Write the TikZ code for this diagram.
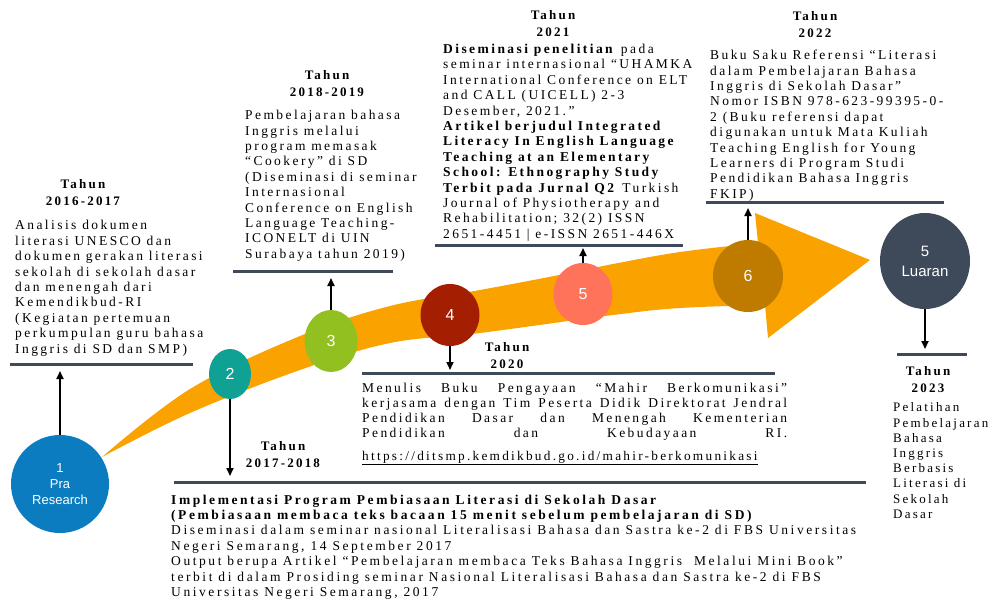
\documentclass[tikz,border=0pt]{standalone}
\usepackage{fontspec}
\setmainfont{Liberation Serif}
\newfontfamily\spaced{Liberation Serif}[LetterSpace=17]
\newfontfamily\spacedm{Liberation Serif}[LetterSpace=18]
\newfontfamily\spacedw{Liberation Serif}[LetterSpace=19]
\newfontfamily\arialf{Liberation Sans}
\usetikzlibrary{arrows.meta,shapes.geometric}
\definecolor{bandc}{RGB}{250,163,0}
\definecolor{rulec}{RGB}{62,74,89}
\definecolor{c1}{RGB}{12,124,192}
\definecolor{c2}{RGB}{15,162,148}
\definecolor{c3}{RGB}{146,192,32}
\definecolor{c4}{RGB}{164,30,2}
\definecolor{c5}{RGB}{255,115,90}
\definecolor{c6}{RGB}{190,123,0}
\definecolor{c7}{RGB}{62,74,89}
\begin{document}
\begin{tikzpicture}[x=1pt,y=-1pt,
  txt/.style={inner sep=0pt,anchor=base west,align=left,font=\spacedm\fontsize{13.5}{15.4}\selectfont},
  ttl/.style={inner sep=0pt,anchor=base,align=center,font=\spaced\bfseries\fontsize{13}{17}\selectfont},
  rulel/.style={draw=rulec,line width=3pt},
  conn/.style={draw=black,line width=1.8pt,-{Triangle[width=7pt,length=8pt]}},
  stage/.style={ellipse,inner sep=0pt,text=white,align=center,font=\arialf\fontsize{16}{20}\selectfont}]
\useasboundingbox (0,0) rectangle (998,603);
% orange band
\fill[bandc] plot[smooth,tension=0.6] coordinates {(102,457) (190,389) (300,336) (390,306) (480,290) (554,276) (613,264) (680,252) (758,243)}
  -- (755,213) -- (870,260) -- (768,338) -- (765,305)
  -- plot[smooth,tension=0.6] coordinates {(765,305) (680,308) (613,315) (480,333) (390,343) (300,370) (190,413) (102,457)} -- cycle;
% stage circles
\node[stage,fill=c1,minimum width=98pt,minimum height=98pt,font=\arialf\fontsize{13}{16}\selectfont] (s1) at (60,484) {1\\Pra\\Research};
\node[stage,fill=c2,minimum width=42pt,minimum height=50pt] (s2) at (230,374) {2};
\node[stage,fill=c3,minimum width=53pt,minimum height=62pt] (s3) at (331,341) {3};
\node[stage,fill=c4,minimum width=59pt,minimum height=62pt] (s4) at (450,315) {4};
\node[stage,fill=c5,minimum width=59pt,minimum height=62pt] (s5) at (583,294) {5};
\node[stage,fill=c6,minimum width=70pt,minimum height=72pt] (s6) at (748,276) {6};
\node[stage,fill=c7,minimum width=90pt,minimum height=96pt,font=\arialf\fontsize{15}{20}\selectfont] (s7) at (925,261) {5\\Luaran};
% rules
\draw[rulel] (10,364) -- (193,364);
\draw[rulel] (233,271) -- (393,271);
\draw[rulel] (435,245) -- (683,245);
\draw[rulel] (706,202) -- (944,202);
\draw[rulel] (362,373) -- (775,373);
\draw[rulel] (174,482) -- (866,482);
\draw[rulel] (897,354) -- (967,354);
% arrow ends
\coordinate (e1) at (60,371);
\coordinate (e2) at (230,476);
\coordinate (e3) at (331,278);
\coordinate (e4) at (450,370);
\coordinate (e5) at (583,248);
\coordinate (e6) at (748,208);
\coordinate (e7) at (925,349);
\draw[conn] (s1.north) -- (e1);
\draw[conn] (s2.south) -- (e2);
\draw[conn] (s3.north) -- (e3);
\draw[conn] (s4.south) -- (e4);
\draw[conn] (s5.north) -- (e5);
\draw[conn] (s6.north) -- (e6);
\draw[conn] (s7.south) -- (e7);
% titles (anchor = baseline of the last line)
\node[ttl] (t1) at (83,205) {Tahun\\2016-2017};
\node[ttl] (t2) at (327,96) {Tahun\\2018-2019};
\node[ttl] (t3) at (553,36.7) {Tahun\\2021};
\node[ttl] (t4) at (815,37.3) {Tahun\\2022};
\node[ttl] (t5) at (507,368.3) {Tahun\\2020};
\node[ttl] (t6) at (283,467.3) {Tahun\\2017-2018};
\node[ttl] (t7) at (928,392.3) {Tahun\\2023};
% texts (anchor = baseline of the last line)
\node[txt] (x1) at (15,353) {Analisis dokumen\\literasi UNESCO dan\\dokumen gerakan literasi\\sekolah di sekolah dasar\\dan menengah dari\\Kemendikbud-RI\\(Kegiatan pertemuan\\perkumpulan guru bahasa\\Inggris di SD dan SMP)};
\node[txt] (x2) at (245,258.3) {Pembelajaran bahasa\\Inggris melalui\\program memasak\\“Cookery” di SD\\(Diseminasi di seminar\\Internasional\\Conference on English\\Language Teaching-\\ICONELT di UIN\\Surabaya tahun 2019)};
\node[txt] (x3) at (443,238.3) {\textbf{Diseminasi penelitian} pada\\seminar internasional “UHAMKA\\International Conference on ELT\\and CALL (UICELL) 2-3\\Desember, 2021.”\\\textbf{Artikel berjudul Integrated}\\\textbf{Literacy In English Language}\\\textbf{Teaching at an Elementary}\\\textbf{School: Ethnography Study}\\\textbf{Terbit pada Jurnal Q2} Turkish\\Journal of Physiotherapy and\\Rehabilitation; 32(2) ISSN\\2651-4451 | e-ISSN 2651-446X};
\node[txt] (x4) at (710,198.3) {Buku Saku Referensi “Literasi\\dalam Pembelajaran Bahasa\\Inggris di Sekolah Dasar”\\Nomor ISBN 978-623-99395-0-\\2 (Buku referensi dapat\\digunakan untuk Mata Kuliah\\Teaching English for Young\\Learners di Program Studi\\Pendidikan Bahasa Inggris\\FKIP)};
\node[txt,font=\spacedm\fontsize{13.5}{15}\selectfont] (x5) at (362,460) {\makebox[425pt][s]{Menulis Buku Pengayaan “Mahir Berkomunikasi”}\\\makebox[425pt][s]{kerjasama dengan Tim Peserta Didik Direktorat Jendral}\\\makebox[425pt][s]{Pendidikan Dasar dan Menengah Kementerian}\\\makebox[425pt][s]{Pendidikan dan Kebudayaan RI.}\\[7.7pt]{\spaced\fontsize{13.3}{15}\selectfont\underline{https://ditsmp.kemdikbud.go.id/mahir-berkomunikasi}}};
\node[txt,font=\spacedw\fontsize{13.5}{15.45}\selectfont] (x6) at (171,596.7) {\textbf{Implementasi Program Pembiasaan Literasi di Sekolah Dasar}\\\textbf{(Pembiasaan membaca teks bacaan 15 menit sebelum pembelajaran di SD)}\\Diseminasi dalam seminar nasional Literalisasi Bahasa dan Sastra ke-2 di FBS Universitas\\Negeri Semarang, 14 September 2017\\Output berupa Artikel “Pembelajaran membaca Teks Bahasa Inggris\ \ Melalui Mini Book”\\terbit di dalam Prosiding seminar Nasional Literalisasi Bahasa dan Sastra ke-2 di FBS\\Universitas Negeri Semarang, 2017};
\node[txt,font=\spaced\fontsize{13}{15.2}\selectfont] (x7) at (893,518.3) {Pelatihan\\Pembelajaran\\Bahasa\\Inggris\\Berbasis\\Literasi di\\Sekolah\\Dasar};
\end{tikzpicture}
\end{document}
